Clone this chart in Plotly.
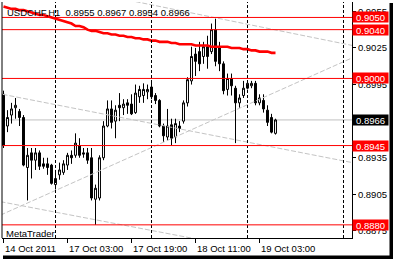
import plotly.graph_objects as go
import pandas as pd

# ---------------- data ----------------
symbol = "USDCHF,H1"
open_ = [0.8987, 0.8961, 0.8970, 0.8976, 0.8973, 0.8968, 0.8927, 0.8939, 0.8933, 0.8939,
         0.8930, 0.8930, 0.8929, 0.8913, 0.8921, 0.8923, 0.8929, 0.8937, 0.8937, 0.8945,
         0.8939, 0.8939, 0.8935, 0.8901, 0.8902, 0.8935, 0.8961, 0.8975, 0.8965, 0.8978,
         0.8976, 0.8980, 0.8979, 0.8972, 0.8985, 0.8986, 0.8989, 0.8993, 0.8986, 0.8982,
         0.8961, 0.8952, 0.8962, 0.8952, 0.8961, 0.8965, 0.8980, 0.8998, 0.9020, 0.9022,
         0.9018, 0.9026, 0.9022, 0.9040, 0.9025, 0.9012, 0.8991, 0.9000, 0.8992, 0.8980,
         0.8986, 0.8992, 0.8994, 0.8996, 0.8980, 0.8982, 0.8974, 0.8968, 0.8955]
high = [0.8990, 0.8974, 0.8980, 0.8984, 0.8975, 0.8970, 0.8943, 0.8943, 0.8943, 0.8941,
        0.8935, 0.8935, 0.8930, 0.8925, 0.8931, 0.8933, 0.8939, 0.8941, 0.8955, 0.8951,
        0.8943, 0.8943, 0.8943, 0.8913, 0.8937, 0.8965, 0.8982, 0.8982, 0.8978, 0.8988,
        0.8983, 0.8983, 0.8987, 0.8995, 0.8994, 0.8996, 0.8995, 0.8998, 0.8988, 0.8983,
        0.8963, 0.8975, 0.8967, 0.8967, 0.8965, 0.8982, 0.9001, 0.9026, 0.9025, 0.9030,
        0.9030, 0.9035, 0.9045, 0.9049, 0.9030, 0.9014, 0.9004, 0.9004, 0.8994, 0.8987,
        0.8998, 0.8998, 0.8998, 0.8998, 0.8987, 0.8987, 0.8978, 0.8971, 0.8967]
low = [0.8943, 0.8956, 0.8963, 0.8967, 0.8961, 0.8928, 0.8900, 0.8918, 0.8925, 0.8925,
       0.8926, 0.8921, 0.8913, 0.8909, 0.8917, 0.8921, 0.8925, 0.8930, 0.8935, 0.8935,
       0.8935, 0.8930, 0.8900, 0.8880, 0.8900, 0.8933, 0.8960, 0.8959, 0.8951, 0.8965,
       0.8970, 0.8971, 0.8970, 0.8971, 0.8980, 0.8980, 0.8983, 0.8983, 0.8979, 0.8960,
       0.8948, 0.8949, 0.8945, 0.8947, 0.8956, 0.8963, 0.8977, 0.8995, 0.9002, 0.9006,
       0.9012, 0.9008, 0.9020, 0.9010, 0.9006, 0.8987, 0.8986, 0.8986, 0.8947, 0.8976,
       0.8984, 0.8991, 0.8992, 0.8978, 0.8978, 0.8972, 0.8961, 0.8955, 0.8954]
close = [0.8945, 0.8968, 0.8975, 0.8978, 0.8968, 0.8929, 0.8937, 0.8933, 0.8939, 0.8928,
         0.8928, 0.8927, 0.8914, 0.8918, 0.8925, 0.8930, 0.8937, 0.8935, 0.8947, 0.8937,
         0.8938, 0.8933, 0.8902, 0.8910, 0.8935, 0.8961, 0.8975, 0.8964, 0.8974, 0.8976,
         0.8979, 0.8978, 0.8971, 0.8988, 0.8991, 0.8991, 0.8991, 0.8985, 0.8982, 0.8961,
         0.8953, 0.8961, 0.8951, 0.8963, 0.8959, 0.8980, 0.8999, 0.9018, 0.9014, 0.9012,
         0.9026, 0.9018, 0.9040, 0.9014, 0.9012, 0.8990, 0.9000, 0.8994, 0.8980, 0.8984,
         0.8992, 0.8996, 0.8996, 0.8980, 0.8984, 0.8975, 0.8964, 0.8956, 0.8966]
ma = [0.9059, 0.9058, 0.9057, 0.9057, 0.9056, 0.9056, 0.9055, 0.9054, 0.9053, 0.9052,
      0.9052, 0.9051, 0.9050, 0.9049, 0.9048, 0.9047, 0.9046, 0.9045, 0.9043, 0.9043,
      0.9042, 0.9040, 0.9039, 0.9039, 0.9038, 0.9037, 0.9037, 0.9036, 0.9036, 0.9035,
      0.9035, 0.9034, 0.9034, 0.9033, 0.9033, 0.9032, 0.9032, 0.9031, 0.9031, 0.9030,
      0.9030, 0.9030, 0.9029, 0.9029, 0.9028, 0.9028, 0.9028, 0.9028, 0.9027, 0.9027,
      0.9027, 0.9027, 0.9026, 0.9026, 0.9026, 0.9026, 0.9026, 0.9025, 0.9025, 0.9025,
      0.9024, 0.9024, 0.9023, 0.9023, 0.9022, 0.9022, 0.9022, 0.9021, 0.9021]
levels = [0.9050, 0.9040, 0.9000, 0.8945, 0.8880]
y_ticks = [0.9055, 0.9025, 0.8995, 0.8965, 0.8935, 0.8905, 0.8875]
# trend lines: (bar index pair, price pair)
trend_x = [[33.0, 87.25], [-0.25, 87.25], [-0.75, 87.25], [-0.75, 87.25]]
trend_y = [[0.9063, 0.9027], [0.8987, 0.8931], [0.8888, 0.9017], [0.8899, 0.8844]]
first_session = ("2011-10-14 11:00", "2011-10-14 23:00")
second_session_start = "2011-10-17 00:00"

# ---------------- time axis ----------------
times = list(pd.date_range(*first_session, freq="h")) + \
        list(pd.date_range(second_session_start, periods=len(close) - 13, freq="h"))
idx = list(range(len(close)))

W, H = 393, 259
ML, MR, MT, MB = 2, 41, 2, 21
PW, PH = W - ML - MR, H - MT - MB
BAR_PX = 4.0          # pixels per bar
PX_PER_UNIT = 12200.0  # pixels per price unit
X_MIN = -0.375
X_MAX = X_MIN + PW / BAR_PX
Y_MAX = levels[0] + (17.45 - MT) / PX_PER_UNIT
Y_MIN = Y_MAX - PH / PX_PER_UNIT

label_idx = list(range(0, len(times), 16))
label_txt = [times[0].strftime("%d %b %Y")] + [times[i].strftime("%d %b %H:%M") for i in label_idx[1:]]
sep_idx = [i for i, t in enumerate(times) if t.hour == 0 and t.minute == 0]
while sep_idx[-1] + 24 < X_MAX:
    sep_idx.append(sep_idx[-1] + 24)

FONT = "Liberation Sans, Arial, sans-serif"
FS = 9.5

fig = go.Figure()
fig.add_trace(go.Candlestick(
    x=idx, open=open_, high=high, low=low, close=close,
    increasing=dict(line=dict(color="black", width=1), fillcolor="white"),
    decreasing=dict(line=dict(color="black", width=1), fillcolor="black"),
    whiskerwidth=0, showlegend=False, hoverinfo="skip"))

for tx, ty in zip(trend_x, trend_y):
    fig.add_trace(go.Scatter(x=tx, y=ty, mode="lines",
                             line=dict(color="#c4c4c4", width=1, dash="5px,2px"),
                             showlegend=False, hoverinfo="skip"))

fig.add_trace(go.Scatter(x=idx, y=ma, mode="lines", line=dict(color="#ff0000", width=2.6),
                         showlegend=False, hoverinfo="skip"))

shapes = []
shapes.append(dict(type="line", xref="paper", yref="y", x0=0, x1=1, y0=close[-1], y1=close[-1],
                   line=dict(color="#c0c0c0", width=1), layer="below"))
for s in sep_idx:
    shapes.append(dict(type="line", xref="x", yref="paper", x0=s, x1=s, y0=0, y1=1,
                       line=dict(color="black", width=1, dash="3px,2px"), layer="above"))
for lv in levels:
    shapes.append(dict(type="line", xref="paper", yref="y", x0=0, x1=1, y0=lv, y1=lv,
                       line=dict(color="#ff0000", width=1), layer="above"))
shapes.append(dict(type="line", xref="paper", yref="paper", x0=0, x1=0, y0=0, y1=1,
                   line=dict(color="black", width=1)))

# frame shadow (right & bottom dark edges)
px = lambda v: (v - ML) / PW
py = lambda v: (H - MB - v) / PH
shapes.append(dict(type="rect", xref="paper", yref="paper", x0=px(389.5), x1=px(394),
                   y0=py(260), y1=py(3), fillcolor="black", line=dict(width=0)))
shapes.append(dict(type="rect", xref="paper", yref="paper", x0=px(3), x1=px(394),
                   y0=py(260), y1=py(255.5), fillcolor="black", line=dict(width=0)))

ann = []
for i, t in zip(label_idx, label_txt):
    ann.append(dict(x=i, xref="x", y=0, yref="paper", yanchor="top", xanchor="left",
                    yshift=-3, xshift=-1, text=t, showarrow=False,
                    font=dict(family=FONT, size=FS, color="black")))
for lv in levels:
    ann.append(dict(x=1, xref="paper", y=lv, yref="y", xanchor="left", yanchor="middle",
                    xshift=0, text=f"{lv:.4f}", showarrow=False, bgcolor="#ff0000",
                    width=35, height=10, borderpad=0,
                    font=dict(family=FONT, size=FS, color="white")))
ann.append(dict(x=1, xref="paper", y=close[-1], yref="y", xanchor="left", yanchor="middle",
                text=f"{close[-1]:.4f}", showarrow=False, bgcolor="black",
                width=35, height=10, borderpad=0,
                font=dict(family=FONT, size=FS, color="white")))
title = f"{symbol}\u00a0 {open_[-1]:.4f} {high[-1]:.4f} {low[-1]:.4f} {close[-1]:.4f}"
ann.append(dict(x=0, xref="paper", y=1, yref="paper", xanchor="left", yanchor="top",
                xshift=3, yshift=-3, text=title, showarrow=False,
                font=dict(family=FONT, size=FS, color="black")))
ann.append(dict(x=0, xref="paper", y=0, yref="paper", xanchor="left", yanchor="bottom",
                xshift=2, yshift=-3, text="MetaTrader", showarrow=False,
                font=dict(family=FONT, size=FS, color="black")))

fig.update_layout(
    width=W, height=H, margin=dict(l=ML, r=MR, t=MT, b=MB),
    paper_bgcolor="white", plot_bgcolor="white",
    shapes=shapes, annotations=ann, showlegend=False,
    xaxis=dict(range=[X_MIN, X_MAX], rangeslider=dict(visible=False), showgrid=False,
               zeroline=False, showline=True, linecolor="black", linewidth=1,
               ticks="outside", ticklen=4, tickcolor="black", tickvals=label_idx,
               showticklabels=False, fixedrange=True),
    yaxis=dict(range=[Y_MIN, Y_MAX], side="right", showgrid=False, zeroline=False,
               showline=True, linecolor="black", linewidth=1, ticks="outside",
               ticklen=3, tickcolor="black", tickvals=y_ticks,
               ticktext=[f"{v:.4f}" for v in y_ticks],
               tickfont=dict(family=FONT, size=FS, color="black"), fixedrange=True),
)
fig.write_html("out.html")
